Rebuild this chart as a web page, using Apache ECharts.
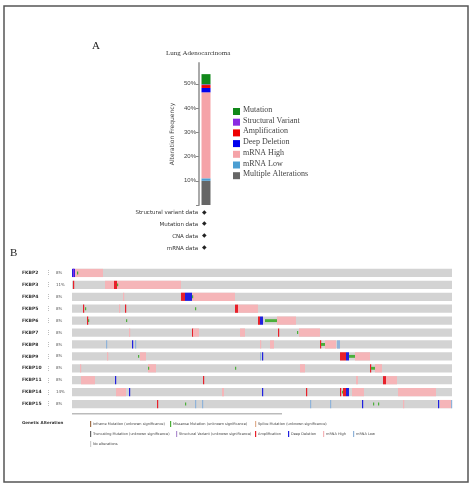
<!DOCTYPE html>
<html>
<head>
<meta charset="utf-8">
<script src="https://cdn.jsdelivr.net/npm/echarts@6/dist/echarts.min.js"></script>
<style>html,body{margin:0;padding:0;background:#fff}#main{width:474px;height:490px}</style>
</head>
<body>
<div id="main"></div>
<script>
// panel A: alteration frequency (%) in lung adenocarcinoma, stacked bottom -> top
const freqNames = ['Multiple Alterations', 'mRNA Low', 'mRNA High', 'Deep Deletion', 'Amplification', 'Structural Variant', 'Mutation'];
const freqValues = [10, 1, 35.5, 1.8, 1.2, 0.3, 4.2];
const freqColors = ['#666666', '#4b9ed2', '#f5a3a8', '#0000ee', '#ee0000', '#8a2be2', '#11881a'];
const profileLabels = ['Structural variant data', 'Mutation data', 'CNA data', 'mRNA data'];

// panel B: oncoprint
const genes = ['FKBP2', 'FKBP3', 'FKBP4', 'FKBP5', 'FKBP6', 'FKBP7', 'FKBP8', 'FKBP9', 'FKBP10', 'FKBP11', 'FKBP14', 'FKBP15'];
const pcts = ['8%', '11%', '8%', '8%', '8%', '8%', '8%', '8%', '8%', '8%', '14%', '8%'];
const nSamples = 380;
// alterations per gene: [startSample, endSample, type]
const altFKBP2 = [[3, 31, 'high'], [0, 3, 'del'], [1, 2, 'sv'], [5, 6, 'mis']];
const altFKBP3 = [[1, 2, 'amp'], [33, 42, 'high'], [45, 109, 'high'], [42, 45, 'amp'], [45, 46, 'mis']];
const altFKBP4 = [[51, 52, 'high'], [109, 113, 'amp'], [113, 120, 'del'], [120, 163, 'high'], [120, 121, 'mis']];
const altFKBP5 = [[11, 12, 'amp'], [13, 14, 'mis'], [47, 48, 'high'], [53, 54, 'amp'], [123, 124, 'mis'], [163, 166, 'amp'], [166, 186, 'high']];
const altFKBP6 = [[15, 16, 'amp'], [16, 17, 'mis'], [54, 55, 'mis'], [186, 188, 'amp'], [188, 191, 'del'], [193, 205, 'mis'], [205, 224, 'high']];
const altFKBP7 = [[57, 58, 'high'], [120, 121, 'amp'], [121, 127, 'high'], [168, 173, 'high'], [206, 207, 'amp'], [225, 226, 'mis'], [227, 248, 'high']];
const altFKBP8 = [[34, 35, 'low'], [60, 61, 'del'], [63, 64, 'low'], [188, 189, 'high'], [198, 202, 'high'], [248, 249, 'amp'], [249, 253, 'mis'], [253, 264, 'high'], [265, 268, 'low']];
const altFKBP9 = [[35, 36, 'high'], [66, 67, 'mis'], [68, 74, 'high'], [188, 189, 'low'], [190, 191, 'del'], [268, 274, 'amp'], [274, 277, 'del'], [277, 283, 'mis'], [283, 298, 'high']];
const altFKBP10 = [[8, 9, 'high'], [76, 84, 'high'], [76, 77, 'mis'], [163, 164, 'mis'], [228, 233, 'high'], [298, 299, 'amp'], [299, 303, 'mis'], [303, 310, 'high']];
const altFKBP11 = [[9, 23, 'high'], [43, 44, 'del'], [131, 132, 'amp'], [284, 286, 'high'], [311, 314, 'amp'], [314, 325, 'high']];
const altFKBP14 = [[44, 54, 'high'], [57, 58, 'del'], [150, 152, 'high'], [190, 191, 'del'], [234, 235, 'amp'], [268, 269, 'amp'], [270, 271, 'mis'], [271, 274, 'amp'], [274, 277, 'del'], [280, 292, 'high'], [326, 364, 'high']];
const altFKBP15 = [[85, 86, 'amp'], [113, 114, 'mis'], [123, 124, 'low'], [130, 131, 'low'], [238, 239, 'low'], [258, 259, 'low'], [290, 291, 'del'], [301, 302, 'mis'], [306, 307, 'mis'], [331, 332, 'high'], [366, 367, 'del'], [368, 379, 'high'], [379, 380, 'low']];
const geneAlts = [altFKBP2, altFKBP3, altFKBP4, altFKBP5, altFKBP6, altFKBP7, altFKBP8, altFKBP9, altFKBP10, altFKBP11, altFKBP14, altFKBP15];

const altColor = { high: '#f5b5b8', low: '#8fb3d9', amp: '#e8202a', del: '#2020e0', sv: '#8a2be2', mis: '#4caf3a' };
const altHeight = { high: 1, low: 1, amp: 1, del: 1, sv: 1, mis: 0.35 };

const legendItems = [
  ['Inframe Mutation (unknown significance)', '#a0704a', 90, 424],
  ['Missense Mutation (unknown significance)', '#4caf3a', 170, 424],
  ['Splice Mutation (unknown significance)', '#e0b090', 255, 424],
  ['Truncating Mutation (unknown significance)', '#666666', 90, 434],
  ['Structural Variant (unknown significance)', '#b090d0', 176, 434],
  ['Amplification', '#e8202a', 255, 434],
  ['Deep Deletion', '#2020e0', 288, 434],
  ['mRNA High', '#f5b5b8', 323, 434],
  ['mRNA Low', '#8fb3d9', 353, 434],
  ['No alterations', '#cccccc', 90, 444]
];

const chart = echarts.init(document.getElementById('main'));

const oncoData = [];
genes.forEach(function (g, i) {
  oncoData.push([0, nSamples, i, 'bg']);
  geneAlts[i].forEach(function (a) {
    oncoData.push([a[0], a[1], i, a[2]]);
  });
});

const graphic = [
  { type: 'rect', shape: { x: 4, y: 6, width: 464, height: 476 }, style: { fill: 'none', stroke: '#555', lineWidth: 1.5 }, silent: true },
  { type: 'text', left: 92, top: 41, style: { text: 'A', font: '11px "Liberation Serif"', fill: '#222' } },
  { type: 'text', left: 10, top: 248, style: { text: 'B', font: '11px "Liberation Serif"', fill: '#222' } },
  { type: 'text', left: 166, top: 50, style: { text: 'Lung Adenocarcinoma', font: '7px "Liberation Serif"', fill: '#333' } },
  { type: 'rect', shape: { x: 72, y: 413, width: 210, height: 1.5 }, style: { fill: '#bbb' } },
  { type: 'text', left: 22, top: 421, style: { text: 'Genetic Alteration', font: 'bold 4px "DejaVu Sans"', fill: '#333' } }
];
freqNames.slice().reverse().forEach(function (n, i) {
  const y = 108 + i * 10.7;
  graphic.push({ type: 'rect', shape: { x: 233, y: y, width: 7, height: 7 }, style: { fill: freqColors[freqNames.length - 1 - i] } });
  graphic.push({ type: 'text', left: 243, top: y - 2, style: { text: n, font: '8px "Liberation Serif"', fill: '#444' } });
});
profileLabels.forEach(function (p, i) {
  const y = 213 + i * 11.7;
  graphic.push({ type: 'text', right: 474 - 198, top: y - 3, style: { text: p, font: '5.5px "DejaVu Sans"', fill: '#333', align: 'right' } });
  graphic.push({ type: 'text', left: 202, top: y - 4, style: { text: '◆', font: '6px "DejaVu Sans"', fill: '#222' } });
});
legendItems.forEach(function (l) {
  graphic.push({ type: 'rect', shape: { x: l[2], y: l[3] - 3, width: 1.2, height: 6 }, style: { fill: l[1] } });
  graphic.push({ type: 'text', left: l[2] + 3, top: l[3] - 2, style: { text: l[0], font: '3.5px "DejaVu Sans"', fill: '#444' } });
});

const option = {
  backgroundColor: '#ffffff',
  animation: false,
  graphic: graphic,
  grid: [
    { left: 199, top: 63, width: 14, height: 142 },
    { left: 72, top: 267, width: 380, height: 143 }
  ],
  xAxis: [
    { gridIndex: 0, type: 'category', data: ['Lung Adenocarcinoma'], axisLine: { show: false }, axisTick: { show: false }, axisLabel: { show: false } },
    { gridIndex: 1, type: 'value', min: 0, max: nSamples, show: false }
  ],
  yAxis: [
    {
      gridIndex: 0, type: 'value', min: 0, max: 58.6, interval: 10,
      name: 'Alteration Frequency', nameLocation: 'middle', nameGap: 24,
      nameTextStyle: { fontSize: 6, color: '#444', fontFamily: 'DejaVu Sans' },
      axisLine: { show: true, lineStyle: { color: '#aaa', width: 2 } },
      axisTick: { show: true, length: 3, lineStyle: { color: '#888' } },
      splitLine: { show: false },
      axisLabel: { fontSize: 6, color: '#444', margin: 3, showMaxLabel: false, formatter: function (v) { return (v === 0 || v % 10 !== 0) ? '' : v + '%'; } }
    },
    {
      gridIndex: 1, type: 'category', data: genes, inverse: true,
      axisLine: { show: false }, axisTick: { show: false },
      axisLabel: {
        interval: 0, align: 'left', margin: 50,
        formatter: function (v, i) { return '{g|' + v + '}{d|⋮}{p|' + pcts[i] + '}'; },
        rich: {
          g: { width: 24, fontSize: 4.5, fontWeight: 'bold', color: '#333', fontFamily: 'DejaVu Sans' },
          d: { width: 10, fontSize: 5, color: '#888' },
          p: { width: 12, fontSize: 4, color: '#555', fontFamily: 'DejaVu Sans' }
        }
      }
    }
  ],
  series: freqNames.map(function (n, i) {
    return { name: n, type: 'bar', stack: 'f', xAxisIndex: 0, yAxisIndex: 0, barWidth: 9, data: [freqValues[i]], itemStyle: { color: freqColors[i] } };
  }).concat([{
    type: 'custom', xAxisIndex: 1, yAxisIndex: 1,
    data: oncoData,
    renderItem: function (params, api) {
      const t = oncoData[params.dataIndex][3];
      const s = api.coord([api.value(0), api.value(2)]);
      const e = api.coord([api.value(1), api.value(2)]);
      const h = 8.2 * (t === 'bg' ? 1 : altHeight[t]);
      const w = Math.max(e[0] - s[0], 1.2);
      return {
        type: 'rect',
        shape: { x: s[0], y: s[1] - h / 2, width: w, height: h },
        style: { fill: t === 'bg' ? '#d3d3d3' : altColor[t] }
      };
    }
  }])
};

chart.setOption(option);
</script>
</body>
</html>
